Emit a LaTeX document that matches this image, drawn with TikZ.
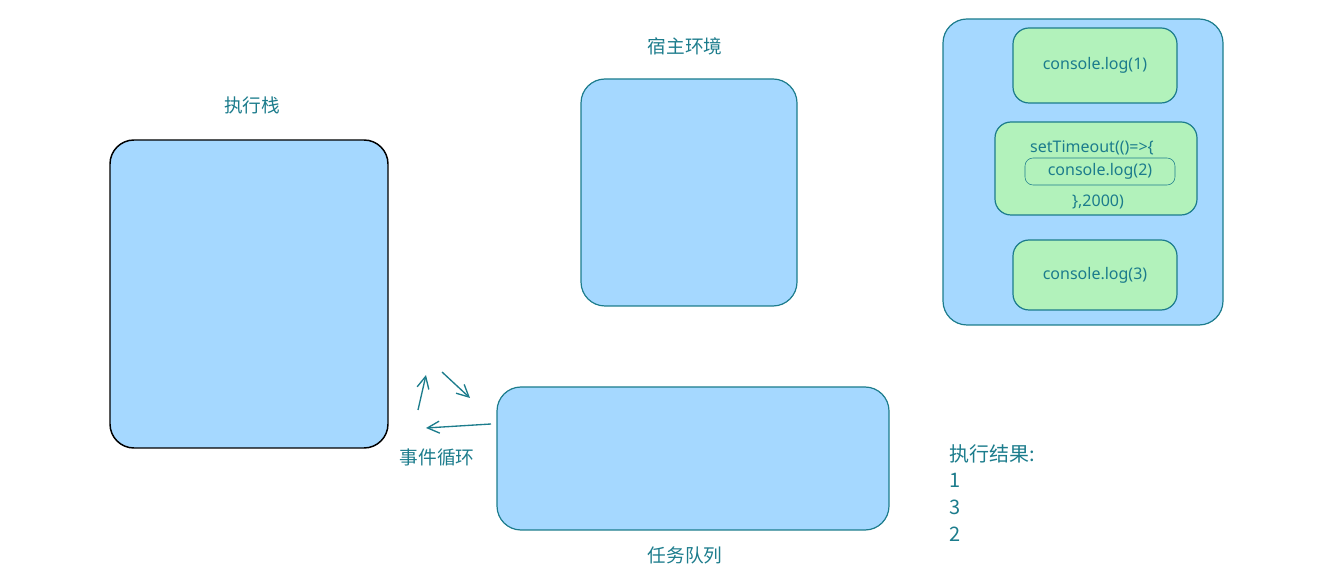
\documentclass[tikz,border=0pt]{standalone}
\usepackage{fontspec}
\setmainfont{Noto Sans}
\newfontfamily\cjk{Noto Sans CJK SC}
\usepackage{tikz}
\usetikzlibrary{arrows.meta,positioning}
\definecolor{paneblue}{HTML}{A5D8FF}
\definecolor{panegreen}{HTML}{B2F2BB}
\definecolor{inkteal}{HTML}{1C7C8C}
\tikzset{
  pane/.style={draw=inkteal, fill=paneblue, line width=0.9pt, rounded corners=18pt},
  job/.style={draw=inkteal, fill=panegreen, line width=0.9pt, rounded corners=12pt},
  tag/.style={text=inkteal, font=\cjk\fontsize{14}{16}\selectfont},
  code/.style={text=inkteal, font=\fontsize{12}{14}\selectfont, inner sep=1pt},
  turn/.style={draw=inkteal, line width=1pt, -{Straight Barb[length=9pt,width=9pt]}}
}
\begin{document}
\begin{tikzpicture}[x=0.75pt, y=-0.75pt]
\useasboundingbox (0,0) rectangle (1340,584);
% stack, host and queue
\node[pane, draw=black, line width=1.1pt, minimum width=208.5pt, minimum height=231pt] (stack) at (249,294) {};
\node[tag] (stacktxt) at (252,105) {执行栈};
\node[pane, minimum width=162pt, minimum height=170.25pt] (host) at (689,192.5) {};
\node[tag] (hosttxt) at (685,46) {宿主环境};
\node[pane, minimum width=294pt, minimum height=107.25pt] (queue) at (693,458.5) {};
\node[tag] (queuetxt) at (685,555) {任务队列};
% event loop
\coordinate (a1) at (418,410); \coordinate (a2) at (426,375);
\coordinate (b1) at (442,372); \coordinate (b2) at (470,398);
\coordinate (c1) at (491,424); \coordinate (c2) at (426,428);
\draw[turn] (a1) -- (a2);
\draw[turn] (b1) -- (b2);
\draw[turn] (c1) -- (c2);
\node[tag] (looptxt) at (437,457) {事件循环};
% code
\node[pane, minimum width=210pt, minimum height=229.5pt] (script) at (1083,172) {};
\node[job, minimum width=123pt, minimum height=56.25pt] (log1) at (1095,65.5) {};
\node[code] at (log1) {console.log(1)};
\node[job, minimum width=151.5pt, minimum height=69.75pt] (timer) at (1096,168.5) {};
\node[code] (timertop) at (1092,148) {setTimeout(()=>\{};
\node[code, draw=inkteal, rounded corners=6pt, minimum width=112.5pt, minimum height=20.25pt] (log2) at (1100,171.5) {console.log(2)};
\node[code] (timerend) at (1098,202) {\},2000)};
\node[job, minimum width=123pt, minimum height=52.5pt] (log3) at (1095,275) {};
\node[code] at (log3) {console.log(3)};
% output
\node[text=inkteal, font=\cjk\fontsize{15}{20}\selectfont, align=left, anchor=north west, inner sep=0pt] (result) at (949,444) {执行结果:\\1\\3\\2};
\end{tikzpicture}
\end{document}
